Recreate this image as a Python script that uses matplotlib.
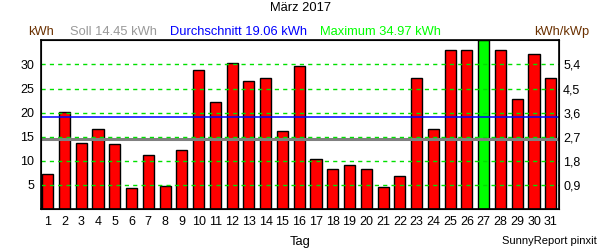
#!/usr/bin/env python3

import matplotlib
matplotlib.use("Agg")
import matplotlib.pyplot as plt

# daily yield, March 2017 (kWh)
days = list(range(1, 32))
yield_kwh = [7.27, 20.08, 13.67, 16.56, 13.46, 4.37, 11.19, 4.86, 12.22, 28.76,
             22.14, 30.20, 26.48, 27.10, 16.15, 29.58, 10.37, 8.30, 9.13, 8.30,
             4.58, 6.92, 27.10, 16.56, 32.90, 32.90, 34.97, 33.10, 22.77, 32.27,
             27.10]
soll = 14.45
mean = 19.06
maximum = 34.97
kwp = 5.5556  # kWh per kWh/kWp
left_ticks = [5, 10, 15, 20, 25, 30]
right_ticks = [0.9, 1.8, 2.7, 3.6, 4.5, 5.4]


def main():
	plt.rcParams["font.family"] = ["Liberation Sans", "DejaVu Sans"]
	plt.rcParams["font.size"] = 9

	fig = plt.figure(figsize=(6, 2.5), dpi=100)
	ax = fig.add_axes([41 / 600, 1 - 209 / 250, 518 / 600, 168.5 / 250])

	colors = ["#00ff00" if v == max(yield_kwh) else "#ff0000" for v in yield_kwh]
	ax.bar(days, yield_kwh, width=0.66, color=colors, edgecolor="black", linewidth=1, zorder=2)

	# reference lines sit on top of the bars
	ax.axhline(soll, color="#808080", linewidth=2.2, zorder=3)
	for t in left_ticks:
		ax.axhline(t, color="#00e000", linestyle=(0, (3, 3)), linewidth=1, zorder=4)
	ax.axhline(mean, color="#0000ff", linewidth=1.1, zorder=5)

	ax.set_xlim(0.6, 31.49)
	ax.set_ylim(0, maximum)
	ax.set_xticks(days)
	ax.set_yticks(left_ticks)
	ax.tick_params(length=0, labelsize=9, pad=5)
	for s in ax.spines.values():
		s.set_linewidth(1.2)
		s.set_zorder(6)

	ax2 = ax.twinx()
	ax2.set_ylim(0, maximum / kwp)
	ax2.set_yticks(right_ticks)
	ax2.set_yticklabels([f"{t:.1f}".replace(".", ",") for t in right_ticks])
	ax2.tick_params(length=0, labelsize=9, pad=3)

	fs = 9.3
	fig.text(0.5, 1 - 8 / 250, "März 2017", ha="center", va="center", fontsize=fs)
	hy = 1 - 32 / 250
	fig.text(28 / 600, hy, "kWh", color="#6a3000", ha="left", va="center", fontsize=fs)
	fig.text(70 / 600, hy, f"Soll {soll:.2f} kWh", color="#999999", ha="left", va="center", fontsize=fs)
	fig.text(170 / 600, hy, f"Durchschnitt {mean:.2f} kWh", color="#0000ff", ha="left", va="center", fontsize=fs)
	fig.text(320 / 600, hy, f"Maximum {maximum:.2f} kWh", color="#00ff00", ha="left", va="center", fontsize=fs)
	fig.text(589 / 600, hy, "kWh/kWp", color="#6a3000", ha="right", va="center", fontsize=fs)
	fig.text(300 / 600, 1 - 242 / 250, "Tag", ha="center", va="center", fontsize=fs)
	fig.text(597 / 600, 1 - 241 / 250, "SunnyReport pinxit", ha="right", va="center", fontsize=8)

	fig.savefig("out.png", dpi=100)


if __name__ == "__main__":
	main()
